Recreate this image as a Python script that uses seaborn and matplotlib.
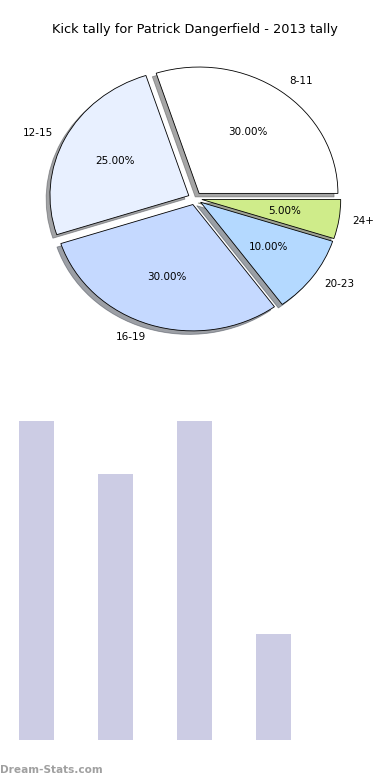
import seaborn as sns
import pandas as pd
import matplotlib
matplotlib.use('Agg')
import matplotlib.pyplot as plt

# pie data
groups = ['8-11', '12-15', '16-19', '20-23', '24+']
shares = [30, 25, 30, 10, 5]
pie_colors = ['#ffffff', '#e8f0ff', '#c5d9ff', '#b4d9ff', '#cfec8a']

# bar data
bar_groups = ['8-11', '12-15', '16-19', '20-23']
bar_counts = [6, 5, 6, 2]

sns.set_style('white')
plt.rcParams['font.family'] = ['DejaVu Sans']
plt.rcParams['text.color'] = 'black'

fig = plt.figure(figsize=(3.9, 7.8), dpi=100)

ax1 = fig.add_axes([0.055, 0.543, 0.89, 0.405])
ax1.pie(shares, labels=groups, colors=pie_colors, autopct='%.2f%%',
        explode=[0.05] * len(shares), shadow=True, startangle=0,
        wedgeprops={'edgecolor': 'black', 'linewidth': 0.6},
        textprops={'fontsize': 7.5, 'color': 'black'})
ax1.set_aspect('auto')
ax1.set_xlim(-1.25, 1.25)
ax1.set_ylim(-1.25, 1.25)

fig.text(0.5, 1 - 30 / 780, 'Kick tally for Patrick Dangerfield - 2013 tally',
         ha='center', va='center', fontsize=9.3, color='black')

ax2 = fig.add_axes([0.0, 40 / 780, 1.0, 319 / 780])
df = pd.DataFrame({'group': bar_groups, 'count': bar_counts})
sns.barplot(data=df, x='group', y='count', color='#ccccE4', saturation=1,
            width=0.44, linewidth=0, ax=ax2)
ax2.set_xlim(-0.462, 4.475)
ax2.set_ylim(0, 6)
ax2.axis('off')

fig.text(0.0, 1 - 770 / 780, 'Dream-Stats.com', ha='left', va='center',
         fontsize=7.6, fontweight='bold', color='#a0a0a0')

fig.savefig('out.png', dpi=100)
